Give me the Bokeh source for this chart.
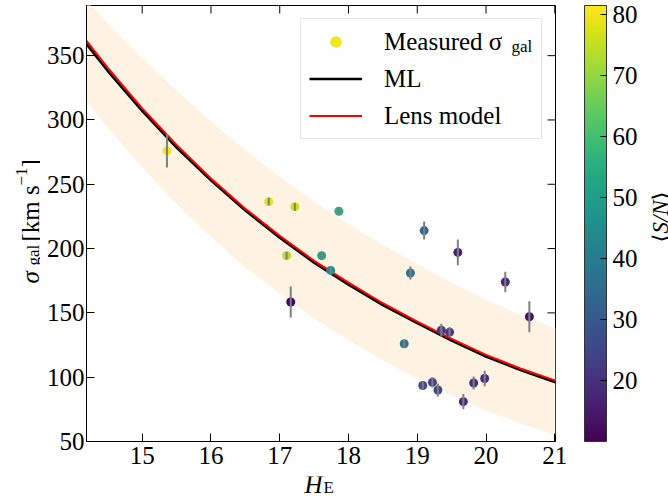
import math
from bokeh.plotting import figure
from bokeh.layouts import row, column
from bokeh.models import (ColumnDataSource, LinearColorMapper, ColorBar, FixedTicker,
                          Label, Legend, LegendItem, Range1d)
from bokeh.palettes import Viridis256
from bokeh.transform import transform
from bokeh.embed import file_html
from bokeh.resources import INLINE

FONT = "Liberation Serif"

# ---- measured galaxies ----
H_E = [15.36, 16.84, 17.22, 17.86, 17.10, 17.61, 17.74, 17.16, 19.10, 19.59, 18.90,
       20.28, 20.63, 19.35, 19.47, 18.81, 19.08, 19.22, 19.30, 19.67, 19.82, 19.98]
SIGMA = [276, 236.5, 232.5, 229, 194.5, 194.5, 183, 158.5, 214, 197, 181,
         174, 147, 136.5, 135, 126, 93.5, 96, 90, 81, 95.5, 99]
SIGMA_ERR = [13, 3, 3, 3, 3, 3, 3, 12, 7, 10, 5, 8, 12, 5, 4, 3, 3, 4, 5, 6, 5, 6]
SN = [80, 78, 76, 55, 74, 52, 45, 11, 34, 17, 38, 18, 13, 23, 22, 37, 27, 24, 26, 19, 20, 19]

# ---- model curves ----
H_CURVE = [14.19, 14.5, 15.0, 15.5, 16.0, 16.5, 17.0, 17.5, 18.0, 18.5, 19.0, 19.5, 20.0, 20.5, 21.01]
ML = [359, 338, 307, 278.5, 253, 229.5, 208.5, 189, 172, 156, 142, 128.5, 116, 105.5, 96]
LENS = [361.5, 340.5, 309, 280.5, 254.5, 231, 210, 190.5, 173.5, 157.5, 143.2, 129.8, 117.3, 106.8, 97.3]
BAND_LO = [315, 294, 263, 234.5, 209, 185.5, 165, 145.5, 129, 113, 99, 86, 74, 64, 55]
BAND_HI = [393, 375, 348, 323, 299, 276.5, 256, 236.5, 219, 203, 188, 173.5, 160, 148.5, 138]

X_MIN, X_MAX = 14.19, 21.01
Y_MIN, Y_MAX = 50, 389
XTICKS = [15, 16, 17, 18, 19, 20, 21]
YTICKS = [50, 100, 150, 200, 250, 300, 350]
CTICKS = [20, 30, 40, 50, 60, 70, 80]
SN_LOW, SN_HIGH = 10, 81.4

# ---------------- main plot ----------------
p = figure(width=600, height=476, x_range=Range1d(X_MIN, X_MAX), y_range=Range1d(Y_MIN, Y_MAX),
           output_backend="svg", toolbar_location=None,
           min_border_left=46, min_border_right=85, min_border_top=5, min_border_bottom=35)
p.xgrid.visible = False
p.ygrid.visible = False
p.outline_line_color = "black"
p.outline_line_width = 1
p.background_fill_color = "white"
p.border_fill_color = "white"

for ax in (p.xaxis[0], p.yaxis[0]):
    ax.major_tick_in = 8
    ax.major_tick_out = 0
    ax.minor_tick_line_color = None
    ax.major_tick_line_color = "black"
    ax.axis_line_color = "black"
    ax.major_label_text_font = FONT
    ax.major_label_text_font_size = "25px"
    ax.major_label_text_color = "black"
p.xaxis.ticker = FixedTicker(ticks=XTICKS)
p.yaxis.ticker = FixedTicker(ticks=YTICKS)
p.xaxis.major_label_standoff = 5
p.yaxis.major_label_standoff = 2

# inward tick marks on the top and right edges
p.ray(x=XTICKS, y=[Y_MAX] * len(XTICKS), length=8, length_units="screen",
      angle=-math.pi / 2, line_color="black", line_width=1)
p.ray(x=[X_MAX] * len(YTICKS), y=YTICKS, length=8, length_units="screen",
      angle=math.pi, line_color="black", line_width=1)

mapper = LinearColorMapper(palette=Viridis256, low=SN_LOW, high=SN_HIGH)

p.varea(x=H_CURVE, y1=BAND_LO, y2=BAND_HI, fill_color="#fef3e3")
ml = p.line(H_CURVE, ML, line_color="black", line_width=2.5)
lens = p.line(H_CURVE, LENS, line_color="red", line_width=2)

src = ColumnDataSource(dict(h=H_E, s=SIGMA, sn=SN,
                            lo=[s - e for s, e in zip(SIGMA, SIGMA_ERR)],
                            hi=[s + e for s, e in zip(SIGMA, SIGMA_ERR)]))
sc = p.scatter("h", "s", source=src, size=9, fill_color=transform("sn", mapper), line_color=None)
p.segment(x0="h", y0="lo", x1="h", y1="hi", source=src, line_color="#7f7f7f", line_width=2)

legend = Legend(items=[LegendItem(label="Measured σ", renderers=[sc]),
                       LegendItem(label="ML", renderers=[ml]),
                       LegendItem(label="Lens model", renderers=[lens])],
                location="top_right", margin=13, padding=8, spacing=8,
                glyph_width=53, glyph_height=29, label_height=29, label_width=149,
                label_standoff=22, label_text_font=FONT, label_text_font_size="25px",
                label_text_color="black",
                border_line_color="#d0d0d0", border_line_width=1,
                background_fill_color=None)
p.add_layout(legend)
p.add_layout(Label(x=425, y=395, x_units="screen", y_units="screen", text="gal",
                   text_font=FONT, text_font_size="17px", text_baseline="alphabetic",
                   text_color="black", level="overlay"))

cb = ColorBar(color_mapper=mapper, ticker=FixedTicker(ticks=CTICKS), width=22, height=436,
              location=(29, 0), padding=0, margin=0,
              major_tick_in=6, major_tick_out=0, major_tick_line_color="black",
              minor_tick_line_color=None,
              major_label_text_font=FONT, major_label_text_font_size="25px",
              major_label_text_color="black",
              label_standoff=6, bar_line_color="#333333",
              border_line_color=None, background_fill_color=None)
p.add_layout(cb, "right")


def text_panel(w, h):
    f = figure(width=w, height=h, x_range=Range1d(0, w), y_range=Range1d(0, h),
               output_backend="svg", toolbar_location=None,
               x_axis_location=None, y_axis_location=None,
               min_border=0, min_border_left=0, min_border_right=0,
               min_border_top=0, min_border_bottom=0)
    f.xgrid.visible = False
    f.ygrid.visible = False
    f.outline_line_color = None
    f.background_fill_color = "white"
    f.border_fill_color = "white"
    return f


def lab(fig, text, x, y, size, angle=0.0, style="normal", font=FONT):
    fig.add_layout(Label(x=x, y=y, x_units="screen", y_units="screen", text=text,
                         text_font=font, text_font_size=size, text_font_style=style,
                         text_color="black", angle=angle, text_align="left",
                         text_baseline="alphabetic"))


R = math.pi / 2

# y-axis label: sigma_gal [km s^-1]   (frame aligned with the main frame)
left = text_panel(40, 476)
lab(left, "σ", 30, 158, "25px", R, "italic")
lab(left, "gal", 33, 176, "17px", R)
lab(left, "[km s", 30, 200, "25px", R)
lab(left, "−1", 21, 256, "17px", R)
lab(left, "]", 30, 274, "25px", R)

# colorbar label <S/N>
right = text_panel(28, 476)
lab(right, "⟨", 20, 199, "23px", R, font="DejaVu Sans")
lab(right, "S/N", 20, 208, "23px", R, "italic")
lab(right, "⟩", 20, 241, "23px", R, font="DejaVu Sans")

# x-axis label: H_E
bottom = text_panel(668, 26)
lab(bottom, "H", 304, 18, "25px", 0.0, "italic")
lab(bottom, "E", 323, 15, "17px")

layout = column(row(left, p, right), bottom)
open("out.html", "w").write(file_html(layout, INLINE))
